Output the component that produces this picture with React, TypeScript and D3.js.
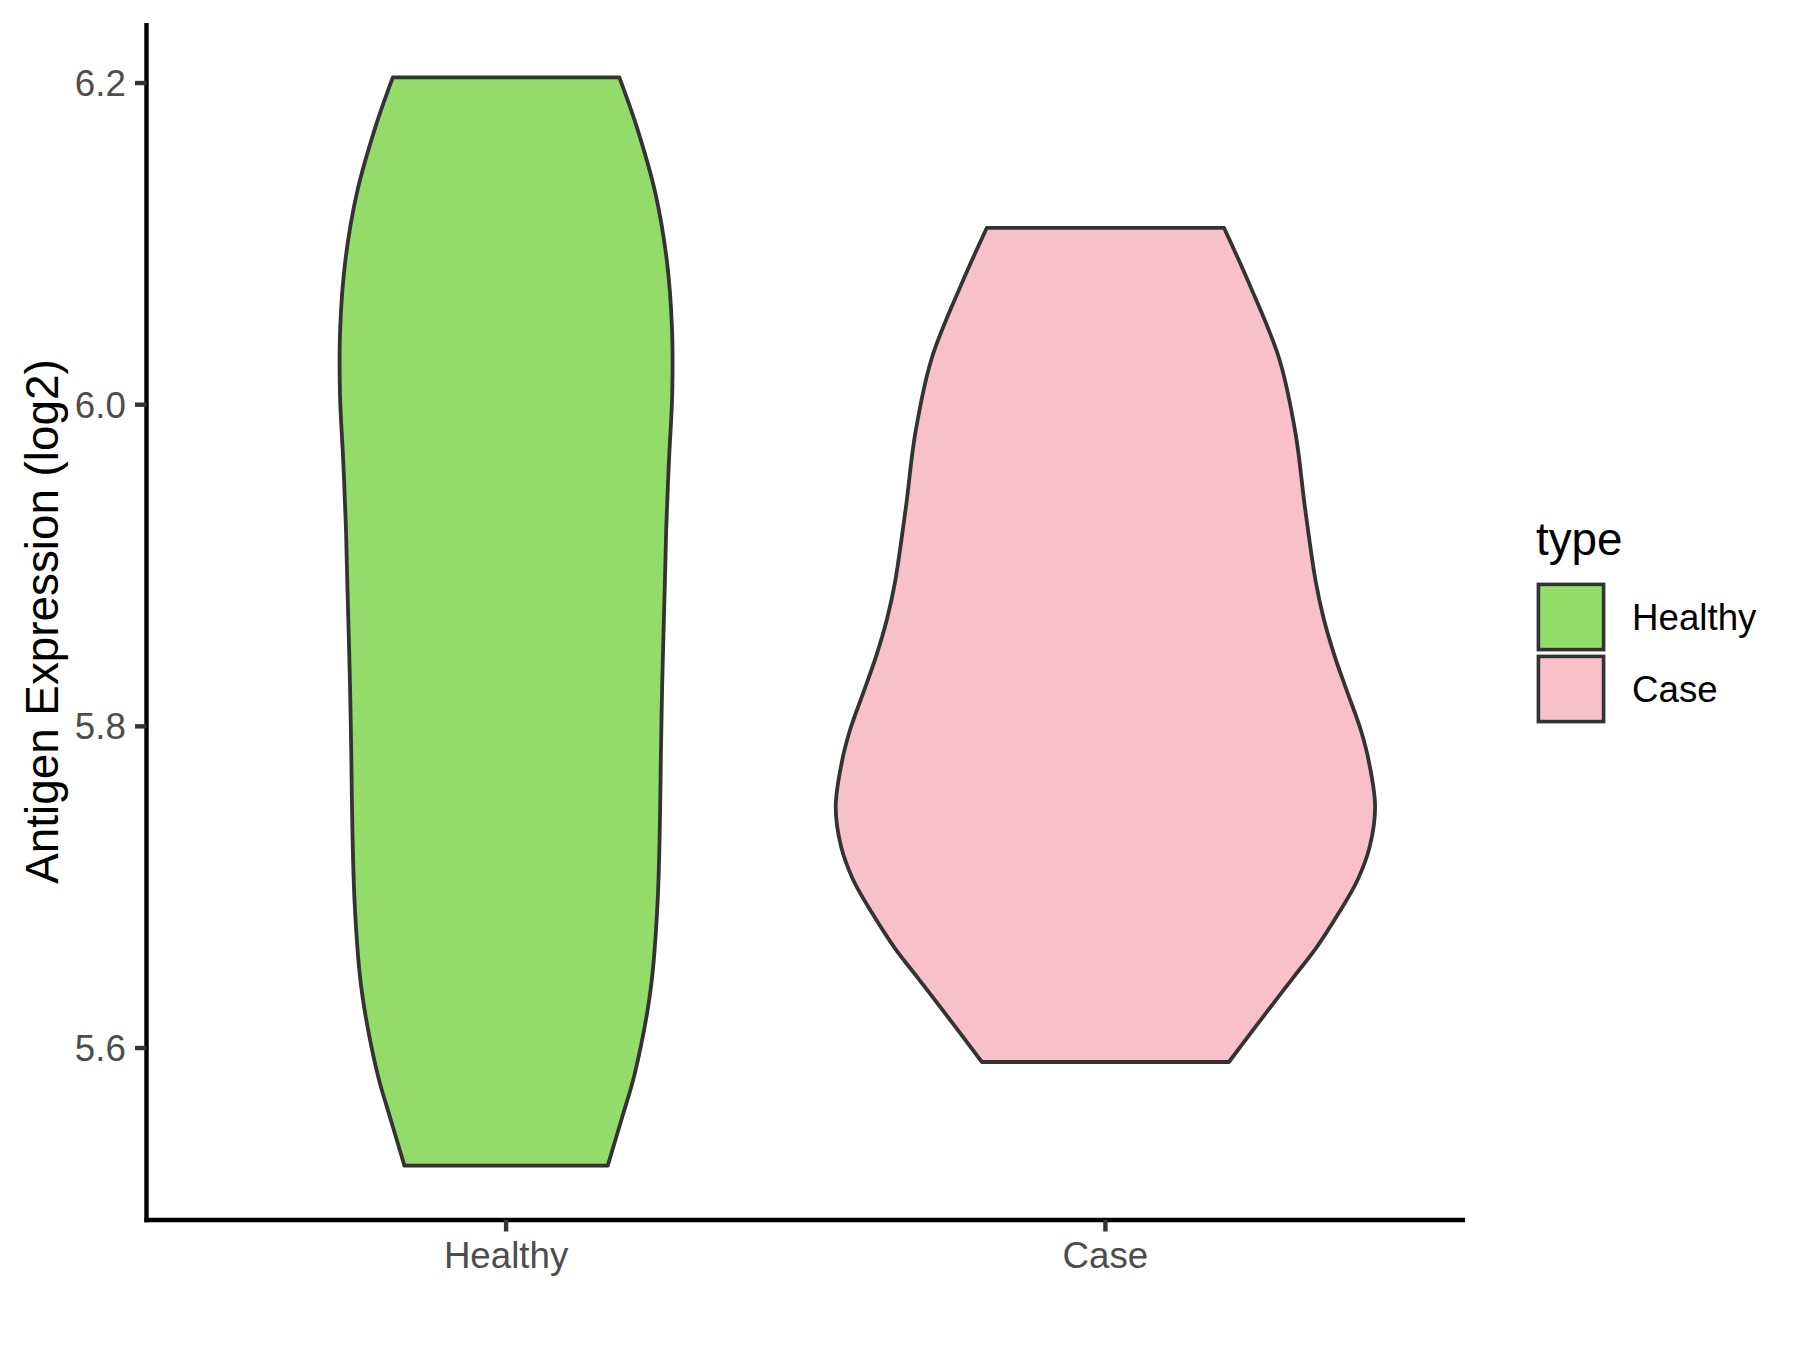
import React from "react";
import * as d3 from "d3";

// ---- Data ----
const categories = ["Healthy", "Case"];
const fillColors = ["#93DC6A", "#F7C0CB"];

// Violin outlines: expression value and relative density half-width (Case max = 1)
const healthyValues = [6.2035, 6.1724, 6.1311, 6.0896, 6.0482, 6.0068, 5.9654, 5.924, 5.8909, 5.8722, 5.8271, 5.7822, 5.7368, 5.6917, 5.6465, 5.624, 5.6014, 5.5788, 5.5562, 5.5269];
const healthyWidths = [0.42, 0.485, 0.554, 0.596, 0.615, 0.616, 0.604, 0.594, 0.589, 0.586, 0.579, 0.574, 0.57, 0.562, 0.543, 0.525, 0.5, 0.469, 0.429, 0.377];

const caseValues = [6.1099, 6.0745, 6.0283, 5.9822, 5.936, 5.8898, 5.8666, 5.8437, 5.8231, 5.7977, 5.7772, 5.7501, 5.7252, 5.7045, 5.6839, 5.6631, 5.6424, 5.6217, 5.5913];
const caseWidths = [0.44, 0.535, 0.645, 0.705, 0.74, 0.78, 0.81, 0.85, 0.893, 0.947, 0.978, 1.0, 0.98, 0.935, 0.865, 0.785, 0.69, 0.595, 0.458];

const yTicks = [5.6, 5.8, 6.0, 6.2];
const yTitle = "Antigen Expression (log2)";
const legendTitle = "type";

const W = 1800;
const H = 1350;
const panel = { left: 146.5, right: 1465, top: 23, bottom: 1220 };
const FONT = "'Liberation Sans', Arial, Helvetica, sans-serif";

export default function App() {
  const series = [
    { name: categories[0], values: healthyValues, widths: healthyWidths, fill: fillColors[0] },
    { name: categories[1], values: caseValues, widths: caseWidths, fill: fillColors[1] },
  ];

  const allVals = [...healthyValues, ...caseValues];
  const vMin = d3.min(allVals) as number;
  const vMax = d3.max(allVals) as number;
  const pad = (vMax - vMin) * 0.05;

  const y = d3.scaleLinear().domain([vMin - pad, vMax + pad]).range([panel.bottom, panel.top]);
  const x = d3.scalePoint<string>().domain(categories).range([panel.left, panel.right]).padding(0.6);
  const step = x.step();
  const wScale = d3.scaleLinear().domain([0, 1]).range([0, 0.45 * step]);

  const violins = series.map((s) => {
    const cx = x(s.name) as number;
    const pts = s.values.map((v, i) => ({ v, w: s.widths[i] }));
    const area = d3
      .area<{ v: number; w: number }>()
      .y((d) => y(d.v))
      .x0((d) => cx - wScale(d.w))
      .x1((d) => cx + wScale(d.w))
      .curve(d3.curveCatmullRom.alpha(0.5));
    return { ...s, cx, path: area(pts) as string };
  });

  const tickLen = 11.5;
  const axisColor = "#000000";
  const tickColor = "#333333";
  const textGrey = "#4D4D4D";

  const legendX = 1535;
  const legendKeyTop = 581;
  const keySize = 72;
  const inset = 3.4;

  return (
    <svg
      width={W}
      height={H}
      viewBox={`0 0 ${W} ${H}`}
      style={{ position: "absolute", left: 0, top: 0, background: "#FFFFFF" }}
      fontFamily={FONT}
    >
      <rect x={0} y={0} width={W} height={H} fill="#FFFFFF" />

      {/* violins */}
      {violins.map((v) => (
        <path key={v.name} d={v.path} fill={v.fill} stroke="#333333" strokeWidth={3.8} strokeLinejoin="round" />
      ))}

      {/* axes lines */}
      <line x1={panel.left} x2={panel.left} y1={panel.top} y2={panel.bottom + 2.2} stroke={axisColor} strokeWidth={4.4} />
      <line x1={panel.left - 2.2} x2={panel.right} y1={panel.bottom} y2={panel.bottom} stroke={axisColor} strokeWidth={4.4} />

      {/* y ticks */}
      {yTicks.map((t) => (
        <g key={t}>
          <line x1={panel.left - tickLen} x2={panel.left} y1={y(t)} y2={y(t)} stroke={tickColor} strokeWidth={4.4} />
          <text
            x={panel.left - tickLen - 9.2}
            y={y(t)}
            dy="0.35em"
            textAnchor="end"
            fontSize={36.7}
            fill={textGrey}
          >
            {t.toFixed(1)}
          </text>
        </g>
      ))}

      {/* x ticks */}
      {categories.map((c) => (
        <g key={c}>
          <line x1={x(c)} x2={x(c)} y1={panel.bottom} y2={panel.bottom + tickLen} stroke={tickColor} strokeWidth={4.4} />
          <text x={x(c)} y={panel.bottom + tickLen + 9.2 + 27} textAnchor="middle" fontSize={36.7} fill={textGrey}>
            {c}
          </text>
        </g>
      ))}

      {/* y title */}
      <text
        transform={`translate(58, ${(panel.top + panel.bottom) / 2}) rotate(-90)`}
        textAnchor="middle"
        fontSize={45.8}
        fill="#000000"
      >
        {yTitle}
      </text>

      {/* legend */}
      <text x={legendX + 1} y={555} fontSize={45.8} fill="#000000">
        {legendTitle}
      </text>
      {series.map((s, i) => (
        <g key={s.name}>
          <rect
            x={legendX + inset}
            y={legendKeyTop + i * keySize + inset}
            width={keySize - 2 * inset}
            height={keySize - 2 * inset}
            fill={s.fill}
            stroke="#333333"
            strokeWidth={3.6}
          />
          <text
            x={1632}
            y={legendKeyTop + i * keySize + keySize / 2}
            dy="0.35em"
            fontSize={36.7}
            fill="#000000"
          >
            {s.name}
          </text>
        </g>
      ))}
    </svg>
  );
}
